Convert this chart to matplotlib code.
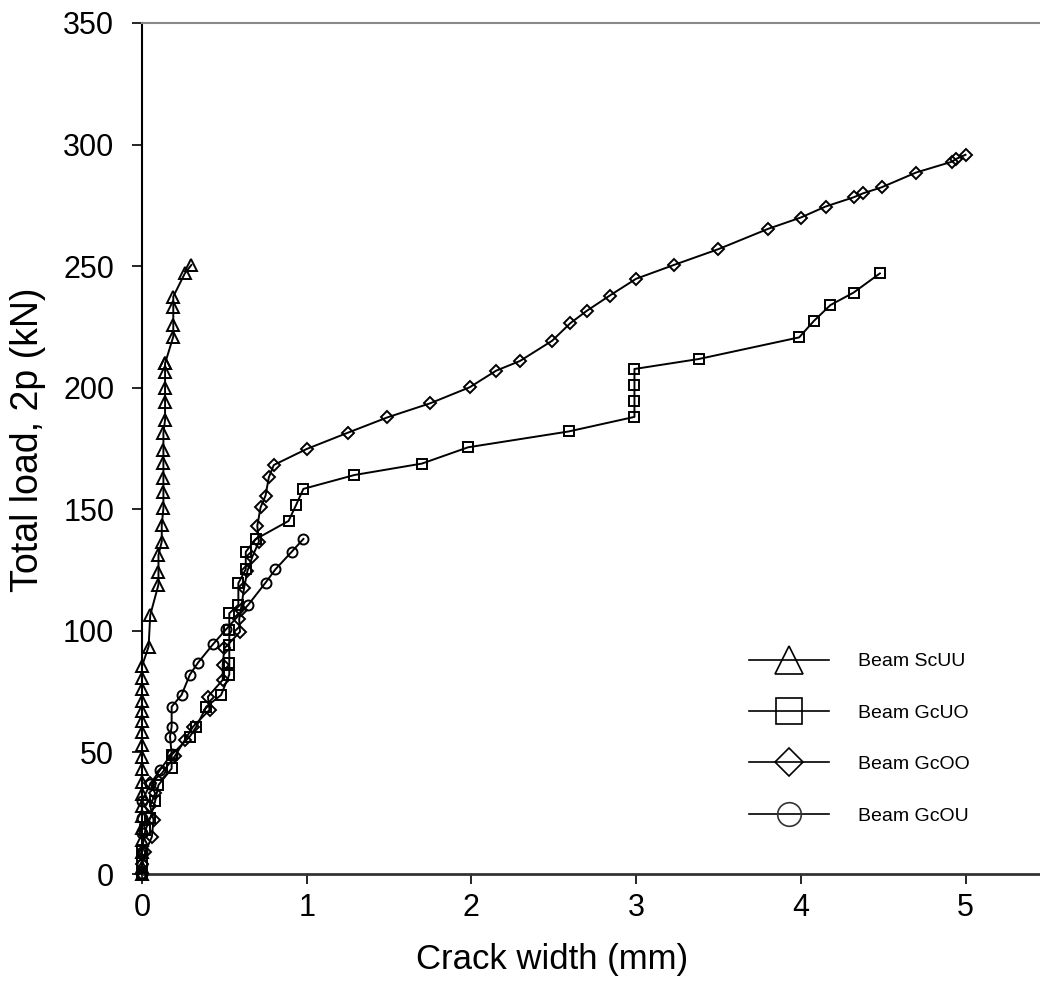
import matplotlib
matplotlib.use("Agg")
import matplotlib.pyplot as plt
from matplotlib.lines import Line2D

plt.rcParams['font.family'] = ['Liberation Sans', 'DejaVu Sans']

# Beam ScUU (triangles)
scuu_x = [0, 0, 0, 0, 0, 0, 0, 0, 0, 0, 0, 0, 0, 0, 0, 0, 0, 0, 0,
          0.04, 0.05, 0.10, 0.10, 0.10, 0.12, 0.12, 0.13, 0.13, 0.13, 0.13,
          0.13, 0.13, 0.14, 0.14, 0.14, 0.14, 0.14, 0.14, 0.19, 0.19, 0.19,
          0.19, 0.26, 0.30]
scuu_y = [0, 3, 9, 14, 19, 24, 28, 33, 38, 43, 48, 53, 58.5, 63, 67, 71,
          76, 80.5, 85.5,
          93.5, 106.5, 119, 124.3, 131.2, 136.7, 143.6, 150.4, 157.3, 162.7,
          168.9, 174.4, 181.3, 186.8, 194.3, 199.7, 206.6, 210, 210, 221,
          225.8, 233, 237.5, 247, 250.5]

# Beam GcUO (squares)
gcuo_x = [0, 0, 0, 0.02, 0.05, 0.08, 0.10, 0.18, 0.18, 0.29, 0.33, 0.39,
          0.48, 0.53, 0.53, 0.53, 0.53, 0.53, 0.585, 0.585, 0.63, 0.63,
          0.69, 0.89, 0.935, 0.98, 1.29, 1.70, 1.98, 2.59, 2.99, 2.99, 2.99,
          2.99, 3.38, 3.99, 4.08, 4.18, 4.32, 4.48]
gcuo_y = [0, 5, 10, 18, 23, 30, 36.6, 43.4, 49, 56.5, 60.6, 68.8, 73.6,
          82, 86.7, 94.2, 100.5, 107.2, 110.7, 119.6, 125.3, 132.5, 137.7,
          145.2, 151.7, 158.4, 164.1, 168.8, 175.5, 182, 188, 194.7, 201,
          207.7, 211.8, 220.7, 227.5, 234, 239.1, 247]

# Beam GcOO (diamonds)
gcoo_x = [0, 0, 0.02, 0.06, 0.07, 0.05, 0.08, 0.05, 0.12, 0.20, 0.26, 0.31,
          0.41, 0.40, 0.49, 0.49, 0.50, 0.595, 0.59, 0.60, 0.62, 0.64, 0.67,
          0.71, 0.70, 0.72, 0.75, 0.77, 0.80, 1.00, 1.25, 1.49, 1.75, 1.99,
          2.15, 2.295, 2.49, 2.60, 2.70, 2.84, 3.00, 3.23, 3.50, 3.80, 4.00,
          4.15, 4.32, 4.38, 4.49, 4.70, 4.92, 4.94, 5.00]
gcoo_y = [0, 4, 9, 15.3, 22.2, 28, 33.2, 37.3, 41.4, 48.5, 55.1, 60.6, 67.5,
          72.9, 79.8, 86, 92.8, 99.6, 104.7, 108.6, 117.7, 124.6, 130.5,
          136.7, 143.2, 150.8, 155.6, 163.1, 168.2, 174.8, 181.5, 187.8,
          193.6, 200.2, 207, 211, 219.3, 226.5, 231.6, 237.9, 244.8, 250.5,
          257, 265.3, 270, 274.5, 278.3, 280, 282.4, 288.5, 293, 294, 295.8]

# Beam GcOU (circles)
gcou_x = [0, 0, 0, 0, 0, 0, 0.05, 0.11, 0.18, 0.17, 0.18, 0.18, 0.24, 0.29,
          0.34, 0.43, 0.51, 0.645, 0.75, 0.81, 0.91, 0.98]
gcou_y = [0, 4, 9, 17, 23, 30, 37, 42.8, 49.4, 56.5, 60.6, 68.8, 73.6, 81.9,
          86.9, 94.4, 100.6, 110.7, 119.8, 125.3, 132.6, 137.8]

labels = ["Beam ScUU", "Beam GcUO", "Beam GcOO", "Beam GcOU"]
x_ticks = [0, 1, 2, 3, 4, 5]
y_ticks = [0, 50, 100, 150, 200, 250, 300, 350]

fig = plt.figure(figsize=(10.4, 9.94), dpi=100)
ax = fig.add_axes([142 / 1040, 1 - 874 / 994, 1 - 142 / 1040, (874 - 23) / 994])

series = [
    (scuu_x, scuu_y, '^', 9.0),
    (gcuo_x, gcuo_y, 's', 7.0),
    (gcoo_x, gcoo_y, 'D', 5.8),
    (gcou_x, gcou_y, 'o', 7.2),
]
for (xs, ys, m, ms), lab in zip(series, labels):
    ax.plot(xs, ys, color='black', lw=1.4, marker=m, markersize=ms,
            markerfacecolor='none', markeredgecolor='black',
            markeredgewidth=1.4, clip_on=False, zorder=3)

ax.set_xlim(0, (1040 - 142) / 164.7)
ax.set_ylim(0, 350)
ax.set_xticks(x_ticks)
ax.set_yticks(y_ticks)
ax.tick_params(direction='out', length=7, width=1.2, labelsize=22)
ax.tick_params(axis='y', pad=13)
ax.tick_params(axis='x', pad=7)
ax.spines['right'].set_visible(False)
ax.spines['top'].set_color('#888888')
ax.spines['top'].set_linewidth(1.5)
ax.spines['left'].set_linewidth(1.5)
ax.spines['bottom'].set_linewidth(2)
ax.spines['bottom'].set_color('#333333')

ax.set_xlabel("Crack width (mm)", fontsize=25)
ax.set_ylabel("Total load, 2p (kN)", fontsize=27)
ax.xaxis.set_label_coords((552 - 142) / 898, -(943 - 874) / 851)
ax.yaxis.set_label_coords(-(142 - 46) / 898, (874 - 440) / 851)

handles = [
    Line2D([], [], color='black', lw=1.2, marker='^', markersize=20,
           markerfacecolor='none', markeredgecolor='black', markeredgewidth=1.2),
    Line2D([], [], color='black', lw=1.2, marker='s', markersize=19,
           markerfacecolor='none', markeredgecolor='black', markeredgewidth=1.2),
    Line2D([], [], color='black', lw=1.2, marker='D', markersize=14,
           markerfacecolor='none', markeredgecolor='black', markeredgewidth=1.2),
    Line2D([], [], color='black', lw=1.2, marker='o', markersize=17,
           markerfacecolor='none', markeredgecolor='#333333', markeredgewidth=1.2),
]
leg = ax.legend(handles, labels, loc='upper left',
                bbox_to_anchor=((748 - 142) / 898 - 0.007, (874 - 645) / 851),
                frameon=False, fontsize=14, handlelength=4.1,
                handletextpad=1.5, labelspacing=1.74, borderaxespad=0)

fig.savefig("out.png", dpi=100)
